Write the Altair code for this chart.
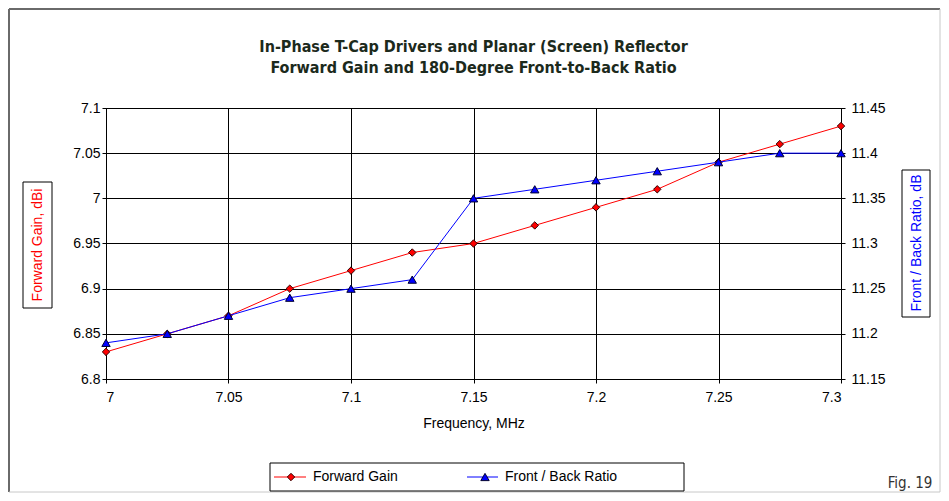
import altair as alt
import pandas as pd

# ---- data ----
freq = [7.0, 7.025, 7.05, 7.075, 7.1, 7.125, 7.15, 7.175, 7.2, 7.225, 7.25, 7.275, 7.3]
gain = [6.83, 6.85, 6.87, 6.90, 6.92, 6.94, 6.95, 6.97, 6.99, 7.01, 7.04, 7.06, 7.08]
fb_ratio = [11.19, 11.20, 11.22, 11.24, 11.25, 11.26, 11.35, 11.36, 11.37, 11.38, 11.39, 11.40, 11.40]

series_names = ["Forward Gain", "Front / Back Ratio"]
x_ticks = [7.0, 7.05, 7.1, 7.15, 7.2, 7.25, 7.3]
left_ticks = [6.8, 6.85, 6.9, 6.95, 7.0, 7.05, 7.1]
right_ticks = [11.15, 11.2, 11.25, 11.3, 11.35, 11.4, 11.45]
title_lines = ["In-Phase T-Cap Drivers and Planar (Screen) Reflector",
               "Forward Gain and 180-Degree Front-to-Back Ratio"]
x_title = "Frequency, MHz"
left_title = "Forward Gain,  dBi"
right_title = "Front / Back Ratio, dB"
fig_label = "Fig. 19"

df = pd.DataFrame({"freq": freq, "gain": gain, "fb": fb_ratio})
one = pd.DataFrame({"a": [0]})

W, H = 735, 271
FONT = "Liberation Sans"
NARROW = "Liberation Sans Narrow, Arial Narrow, DejaVu Sans Condensed, sans-serif"
RED = "#ff0000"
BLUE = "#0000ff"

x_enc = alt.X("freq:Q",
              scale=alt.Scale(domain=[7.0, 7.3], nice=False, zero=False),
              axis=alt.Axis(values=x_ticks, format=".2~f", title=x_title,
                            grid=True, tickSize=4, labelPadding=7,
                            titleFontWeight="normal", titleFontSize=14,
                            titleFont=FONT, titleBaseline="middle",
                            titleY=44, titleX=W / 2))

y_gain_scale = alt.Scale(domain=[6.8, 7.1], nice=False, zero=False)
y_fb_scale = alt.Scale(domain=[11.15, 11.45], nice=False, zero=False)

base = alt.Chart(df)

gain_line = base.mark_line(color=RED, strokeWidth=1).encode(
    x=x_enc,
    y=alt.Y("gain:Q", scale=y_gain_scale,
            axis=alt.Axis(values=left_ticks, format=".2~f", title=None,
                          grid=True, orient="left", tickSize=4, labelPadding=2)))
gain_pts = base.mark_point(shape="diamond", filled=True, fill=RED, stroke="#300000",
                           strokeWidth=1, size=55, opacity=1).encode(
    x=x_enc, y=alt.Y("gain:Q", scale=y_gain_scale, axis=None))

fb_line = base.mark_line(color=BLUE, strokeWidth=1).encode(
    x=x_enc,
    y=alt.Y("fb:Q", scale=y_fb_scale,
            axis=alt.Axis(values=right_ticks, format=".2~f", title=None,
                          grid=False, orient="right", tickSize=4, labelPadding=6)))
fb_pts = base.mark_point(shape="triangle-up", filled=True, fill=BLUE, stroke="#000030",
                         strokeWidth=1, size=70, opacity=1).encode(
    x=x_enc, y=alt.Y("fb:Q", scale=y_fb_scale, axis=None))


def txt(text, x, y, **kw):
    return alt.Chart(one).mark_text(text=text, **kw).encode(
        x=alt.value(x), y=alt.value(y))


def box(x, x2, y, y2, stroke="black", sw=1):
    return alt.Chart(one).mark_rect(fill=None, stroke=stroke, strokeWidth=sw).encode(
        x=alt.value(x), x2=alt.value(x2), y=alt.value(y), y2=alt.value(y2))


def rule(x, x2, y, y2, color, sw=1):
    return alt.Chart(one).mark_rule(color=color, strokeWidth=sw).encode(
        x=alt.value(x), x2=alt.value(x2), y=alt.value(y), y2=alt.value(y2))


def pt(shape, x, y, fill, stroke, size):
    return alt.Chart(one).mark_point(shape=shape, filled=True, fill=fill, stroke=stroke,
                                     strokeWidth=1, size=size, opacity=1).encode(
        x=alt.value(x), y=alt.value(y))


TITLE_COLOR = "#1c2a1c"
deco = [
    # outer frame
    rule(-97, 834, -99, -99, "#6a6a6a", 2),
    rule(-97, -97, -99, 384, "#6a6a6a", 2),
    rule(834, 834, -99, 384, "#c8c8c8", 1),
    rule(-97, 834, 384, 384, "#c8c8c8", 1),
    # title
    txt(title_lines[0], W / 2, -61, font=NARROW, fontSize=16, fontWeight="bold",
        color=TITLE_COLOR, align="center", baseline="middle"),
    txt(title_lines[1], W / 2, -40, font=NARROW, fontSize=16, fontWeight="bold",
        color=TITLE_COLOR, align="center", baseline="middle"),
    # left axis title box
    box(-83, -54, 74, 200),
    txt(left_title, -68, 137, font=FONT, fontSize=14, color=RED, angle=270,
        align="center", baseline="middle"),
    # right axis title box
    box(796, 824, 62, 209),
    txt(right_title, 811, 135, font=FONT, fontSize=14, color=BLUE, angle=270,
        align="center", baseline="middle"),
    # legend
    box(164, 578, 355, 383),
    rule(168, 200, 369, 369, RED),
    pt("diamond", 185, 369, RED, "#300000", 55),
    txt(series_names[0], 207, 369, font=FONT, fontSize=14, color="black",
        align="left", baseline="middle"),
    rule(361, 392, 369, 369, BLUE),
    pt("triangle-up", 379, 369, BLUE, "#000030", 70),
    txt(series_names[1], 399, 369, font=FONT, fontSize=14, color="black",
        align="left", baseline="middle"),
    # figure label
    txt(fig_label, 804, 375, font=NARROW, fontSize=15, color="#333333",
        align="center", baseline="middle"),
]

chart = alt.layer(gain_line, gain_pts, fb_line, fb_pts, *deco).resolve_scale(
    y="independent"
).properties(
    width=W, height=H,
    autosize=alt.AutoSizeParams(type="none"),
    padding={"left": 98, "top": 100, "right": 100, "bottom": 114},
    background="white",
).configure_view(
    stroke="black", strokeWidth=1, fill="white"
).configure_axis(
    gridColor="black", gridOpacity=1, gridWidth=1,
    domainColor="black", domainWidth=1,
    tickColor="black", tickWidth=1,
    labelColor="black", labelFont=FONT, labelFontSize=14,
    titleColor="black",
)

chart.save("out.html", embed_options={"renderer": "svg", "actions": False})
